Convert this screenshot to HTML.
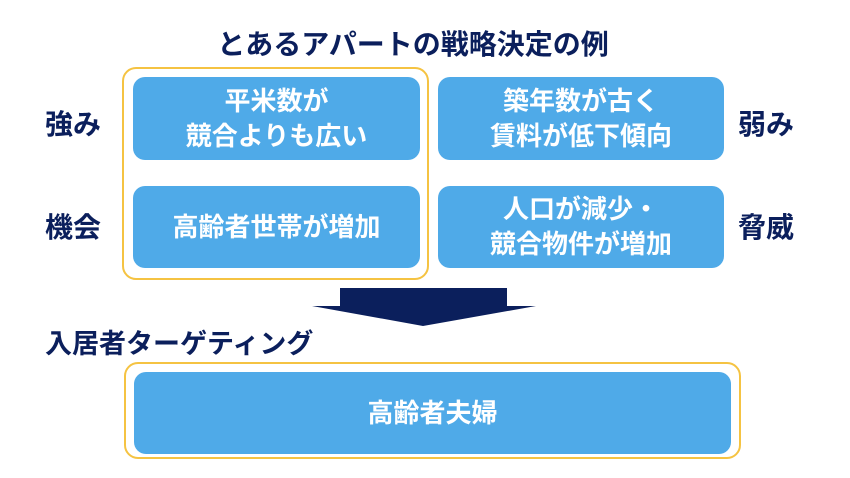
<!DOCTYPE html>
<html><head><meta charset="utf-8"><style>
body{margin:0;width:850px;height:478px;background:#fff;position:relative;overflow:hidden;font-family:"Liberation Sans","Noto Sans CJK JP",sans-serif;}
.t{position:absolute;color:#0b1f5c;font-weight:bold;white-space:nowrap;line-height:1;}
.y{position:absolute;border:2.5px solid #f5c342;border-radius:14px;box-sizing:border-box;}
.b{position:absolute;background:#4faae8;border-radius:12px;color:#fff;font-weight:bold;font-size:26px;display:flex;align-items:center;justify-content:center;text-align:center;line-height:35px;}
</style></head><body>
<div class="t" style="left:0;width:826px;text-align:center;top:31px;font-size:28px;">とあるアパートの戦略決定の例</div>
<div class="t" style="left:45px;top:111px;font-size:28px;">強み</div>
<div class="t" style="left:45px;top:214px;font-size:28px;">機会</div>
<div class="t" style="left:738px;top:111px;font-size:28px;">弱み</div>
<div class="t" style="left:738px;top:214px;font-size:28px;">脅威</div>
<div class="t" style="left:45px;top:331px;font-size:27px;">入居者ターゲティング</div>
<div class="y" style="left:122px;top:67px;width:307px;height:213px;"></div>
<div class="b" style="left:133px;top:77px;width:287px;height:83px;">平米数が<br>競合よりも広い</div>
<div class="b" style="left:133px;top:186px;width:287px;height:82px;">高齢者世帯が増加</div>
<div class="b" style="left:438px;top:77px;width:286px;height:83px;">築年数が古く<br>賃料が低下傾向</div>
<div class="b" style="left:438px;top:186px;width:286px;height:82px;">人口が減少・<br>競合物件が増加</div>
<svg style="position:absolute;left:0;top:0" width="850" height="478"><polygon points="340,288 507,288 507,306 536,306 423,326 312,306 340,306" fill="#0b1f5c"/></svg>
<div class="y" style="left:124px;top:362px;width:617px;height:97px;"></div>
<div class="b" style="left:134px;top:372px;width:597px;height:82px;">高齢者夫婦</div>
</body></html>
